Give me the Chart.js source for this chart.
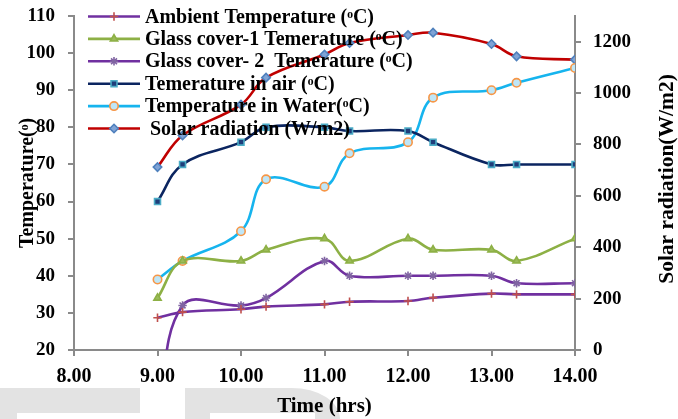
<!DOCTYPE html>
<html>
<head>
<meta charset="utf-8">
<script src="https://cdn.jsdelivr.net/npm/chart.js@4.4.1/dist/chart.umd.min.js"></script>
<style>
  html, body { margin: 0; padding: 0; background: #ffffff; }
  #wrap { position: relative; width: 678px; height: 419px; overflow: hidden; }
  .wm { position: absolute; background: #e3e3e3; }
  .wh { position: absolute; background: #ffffff; }
  canvas { position: absolute; left: 0; top: 0; }
</style>
</head>
<body>
<div id="wrap">
  <div class="wm" style="left:0;top:388px;width:140px;height:31px;"></div>
  <div class="wh" style="left:17px;top:413px;width:123px;height:6px;"></div>
  <div class="wm" style="left:185px;top:388px;width:155px;height:31px;border-top-right-radius:70px 45px;"></div>
  <div class="wh" style="left:210px;top:413px;width:105px;height:6px;"></div>
  <canvas id="c" width="678" height="419"></canvas>
</div>
<script>
// ---- data ----
const timeHrs = [9.0, 9.3, 10.0, 10.3, 11.0, 11.3, 12.0, 12.3, 13.0, 13.3, 14.0];
const ambientTemp = [28.7, 30.2, 31.0, 31.7, 32.3, 33.0, 33.2, 34.1, 35.2, 35.0, 35.0];
const glassCover1Temp = [34, 44, 44, 47, 50, 44, 50, 47, 47, 44, 50];
const glassCover2Temp = [0, 32, 32, 34, 44, 40, 40, 40, 40, 38, 38];
const airTemp = [60, 70, 76, 80, 80, 79, 79, 76, 70, 70, 70];
const waterTemp = [39, 44, 52, 66, 64, 73, 76, 88, 90, 92, 96];
const solarRadiation = [712, 835, 955, 1060, 1150, 1195, 1226, 1235, 1191, 1143, 1130];

const seriesLabels = [
  "Ambient Temperature (\u1D52C)",
  "Glass cover-1 Temerature (\u1D52C)",
  "Glass cover- 2  Temerature (\u1D52C)",
  "Temerature in air (\u1D52C)",
  "Temperature in Water(\u1D52C)",
  " Solar radiation (W/m2)"
];
const xTickLabels = ["8.00", "9.00", "10.00", "11.00", "12.00", "13.00", "14.00"];
const rightTickLabels = ["0", "200", "400", "600", "800", "1000", "1200"];
const leftTitle = "Temperature(\u1D52)";
const rightTitle = "Solar radiation(W/m2)";
const xTitle = "Time (hrs)";

const FONT = "'Liberation Serif', 'Times New Roman', serif";

function pts(vals) { return timeHrs.map((t, i) => ({ x: t, y: vals[i] })); }

function ds(label, vals, line, style, fill, stroke, axis) {
  return {
    label: label, data: pts(vals), yAxisID: axis,
    borderColor: line, borderWidth: 2.6, tension: 0.38,
    pointStyle: style, pointRadius: 4.2, pointBorderWidth: 1.6,
    pointBackgroundColor: fill, pointBorderColor: stroke,
    fill: false
  };
}

const datasets = [
  ds(seriesLabels[0], ambientTemp, '#7030A0', 'cross', '#C0504D', '#C0504D', 'y'),
  ds(seriesLabels[1], glassCover1Temp, '#8DB045', 'triangle', '#9BBB59', '#8DB045', 'y'),
  ds(seriesLabels[2], glassCover2Temp, '#7030A0', 'star', '#8064A2', '#8064A2', 'y'),
  ds(seriesLabels[3], airTemp, '#0B2560', 'rect', '#1F3D7A', '#4BACC6', 'y'),
  ds(seriesLabels[4], waterTemp, '#16B4EE', 'circle', '#BFE6F7', '#F79646', 'y'),
  ds(seriesLabels[5], solarRadiation, '#C00000', 'rectRot', '#7FA3D6', '#4F81BD', 'y1')
];

const legendPlugin = {
  id: 'customLegend',
  afterDatasetsDraw(chart) {
    const ctx = chart.ctx;
    ctx.save();
    chart.data.datasets.forEach((d, i) => {
      const y = 16.5 + i * 22.4;
      ctx.strokeStyle = d.borderColor;
      ctx.lineWidth = 2.6;
      ctx.beginPath(); ctx.moveTo(88, y); ctx.lineTo(140, y); ctx.stroke();
      ctx.fillStyle = d.pointBackgroundColor;
      ctx.strokeStyle = d.pointBorderColor;
      ctx.lineWidth = d.pointBorderWidth;
      Chart.helpers.drawPoint(ctx, { pointStyle: d.pointStyle, rotation: 0, radius: d.pointRadius, borderWidth: d.pointBorderWidth }, 114, y);
      ctx.fillStyle = '#000';
      ctx.font = "bold 20px " + FONT;
      ctx.textBaseline = 'middle';
      ctx.textAlign = 'left';
      ctx.fillText(d.label, 145, y + 1);
    });
    ctx.restore();
  }
};

// right-hand axis title reads bottom-to-top like the left one
const rightTitlePlugin = {
  id: 'rightTitle',
  afterDraw(chart) {
    const ctx = chart.ctx;
    const s = chart.scales.y1;
    ctx.save();
    ctx.translate(667, (s.top + s.bottom) / 2 - 4);
    ctx.rotate(-Math.PI / 2);
    ctx.fillStyle = '#000';
    ctx.font = "bold 21.5px " + FONT;
    ctx.textAlign = 'center';
    ctx.textBaseline = 'middle';
    ctx.fillText(rightTitle, 0, 0);
    ctx.restore();
  }
};

const axisGrey = '#8a8a8a';
function fixV(w) { return s => { s.width = w; s.paddingTop = 0; s.paddingBottom = 0; }; }

new Chart(document.getElementById('c'), {
  type: 'line',
  data: { datasets: datasets },
  plugins: [legendPlugin, rightTitlePlugin],
  options: {
    responsive: false,
    animation: false,
    layout: { autoPadding: false, padding: { top: 16, left: 0, right: 0, bottom: 0 } },
    plugins: { legend: { display: false }, tooltip: { enabled: false } },
    scales: {
      x: {
        type: 'linear', min: 8, max: 14,
        afterFit: s => { s.height = 69; s.paddingLeft = 0; s.paddingRight = 0; },
        border: { display: true, color: axisGrey, width: 2 },
        grid: { display: true, drawOnChartArea: false, drawTicks: true, tickLength: 6, color: axisGrey, lineWidth: 2 },
        ticks: {
          stepSize: 1, padding: 9, color: '#000', maxRotation: 0,
          font: { family: FONT, size: 20, weight: 'bold' },
          callback: (v) => xTickLabels[Math.round(v) - 8]
        },
        title: { display: true, text: xTitle, color: '#000', padding: { top: 0, bottom: 0 },
          font: { family: FONT, size: 21, weight: 'bold' } }
      },
      y: {
        position: 'left', min: 20, max: 110,
        afterFit: fixV(74),
        border: { display: true, color: axisGrey, width: 2 },
        grid: { display: true, drawOnChartArea: false, drawTicks: true, tickLength: 6, color: axisGrey, lineWidth: 2 },
        ticks: { stepSize: 10, padding: 13, color: '#000', font: { family: FONT, size: 19, weight: 'bold' } },
        title: { display: true, text: leftTitle, color: '#000', padding: { top: 16, bottom: 0 },
          font: { family: FONT, size: 20, weight: 'bold' } }
      },
      y1: {
        position: 'right', min: 0, max: 1300,
        afterFit: fixV(103),
        border: { display: true, color: axisGrey, width: 2 },
        grid: { display: true, drawOnChartArea: false, drawTicks: true, tickLength: 6, color: axisGrey, lineWidth: 2 },
        ticks: {
          stepSize: 200, padding: 12, color: '#000', font: { family: FONT, size: 19, weight: 'bold' },
          callback: (v) => (v % 200 === 0 && v / 200 < rightTickLabels.length) ? rightTickLabels[v / 200] : null
        },
        title: { display: false }
      }
    }
  }
});
</script>
</body>
</html>
